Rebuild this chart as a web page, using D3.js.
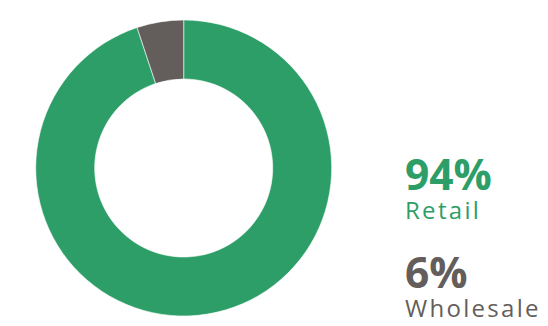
<!DOCTYPE html>
<html><head><meta charset="utf-8">
<script src="https://cdn.jsdelivr.net/npm/d3@7"></script>
<style>body{margin:0;background:#fff}svg{display:block}</style>
</head><body>
<script>
const categories = ["Retail", "Wholesale"];
const values = [94.9, 5.1];
const pctLabels = ["94%", "6%"];
const colors = ["#2d9e67", "#635e5b"];

const W = 548, H = 326;
const svg = d3.select("body").append("svg").attr("width", W).attr("height", H);
const cx = 183.7, cy = 168, R = 148, r = 89;
const data = categories.map((c, i) => ({cat: c, value: values[i], label: pctLabels[i], color: colors[i]}));
const pie = d3.pie().value(d => d.value).sort(null).startAngle(0).endAngle(2 * Math.PI);
const arc = d3.arc().innerRadius(r).outerRadius(R);
svg.append("g").attr("transform", `translate(${cx},${cy})`)
  .selectAll("path").data(pie(data)).join("path")
  .attr("d", arc).attr("fill", d => d.data.color)
  .attr("stroke", "#fff").attr("stroke-width", 0.6);

const lg = svg.append("g");
const ys = [190, 288];
data.forEach((d, i) => {
  lg.append("text").attr("x", 405).attr("y", ys[i])
    .attr("font-family", "Open Sans").attr("font-weight", 700).attr("font-size", 42.5)
    .attr("fill", d.color).text(d.label);
  lg.append("text").attr("x", 405).attr("y", ys[i] + 28.5)
    .attr("font-family", "Open Sans").attr("font-weight", 400).attr("font-size", 24)
    .attr("letter-spacing", 2.3)
    .attr("fill", d.color).text(d.cat);
});
</script>
</body></html>
